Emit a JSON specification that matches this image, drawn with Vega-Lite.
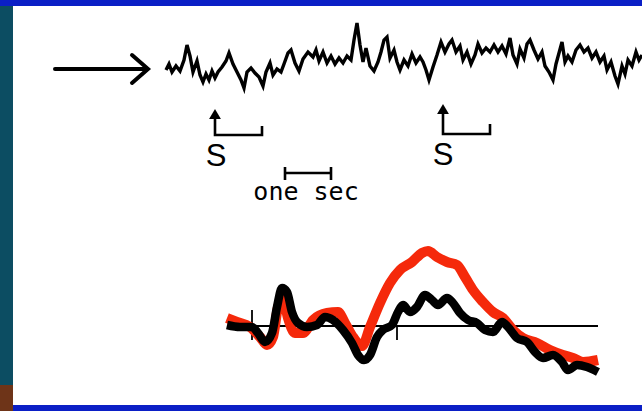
{
  "$schema": "https://vega.github.io/schema/vega-lite/v6.json",
  "width": 642,
  "height": 411,
  "padding": 0,
  "autosize": {"type": "none"},
  "background": "#ffffff",
  "config": {"view": {"stroke": null}},
  "encoding": {
    "x": {"field": "x", "type": "quantitative", "scale": {"domain": [0, 642], "nice": false, "zero": false}, "axis": null},
    "y": {"field": "y", "type": "quantitative", "scale": {"domain": [411, 0], "nice": false, "zero": false}, "axis": null}
  },
  "layer": [
    {
      "data": {"values": [{"x": 0, "x2": 642, "y": 0, "y2": 6}, {"x": 13, "x2": 642, "y": 405, "y2": 411}]},
      "mark": {"type": "rect", "color": "#0b1fc6"},
      "encoding": {"x2": {"field": "x2"}, "y2": {"field": "y2"}}
    },
    {
      "data": {"values": [{"x": 0, "x2": 13, "y": 6, "y2": 385}]},
      "mark": {"type": "rect", "color": "#0c4d62"},
      "encoding": {"x2": {"field": "x2"}, "y2": {"field": "y2"}}
    },
    {
      "data": {"values": [{"x": 0, "x2": 13, "y": 385, "y2": 411}]},
      "mark": {"type": "rect", "color": "#6e3418"},
      "encoding": {"x2": {"field": "x2"}, "y2": {"field": "y2"}}
    },
    {
      "data": {"values": [
        {"g": "shaft", "i": 0, "x": 55, "y": 69}, {"g": "shaft", "i": 1, "x": 146, "y": 69},
        {"g": "head", "i": 0, "x": 132, "y": 55}, {"g": "head", "i": 1, "x": 148, "y": 69}, {"g": "head", "i": 2, "x": 132, "y": 83}
      ]},
      "mark": {"type": "line", "color": "#000000", "strokeWidth": 4, "strokeCap": "round", "strokeJoin": "miter"},
      "encoding": {"detail": {"field": "g"}, "order": {"field": "i"}}
    },
    {
      "data": {"values": [
        {"x": 166, "y": 70}, {"x": 169, "y": 64}, {"x": 172, "y": 72}, {"x": 176, "y": 66}, {"x": 180, "y": 71},
        {"x": 184, "y": 60}, {"x": 187, "y": 45}, {"x": 190, "y": 56}, {"x": 193, "y": 72}, {"x": 197, "y": 61},
        {"x": 200, "y": 75}, {"x": 203, "y": 82}, {"x": 206, "y": 74}, {"x": 209, "y": 80}, {"x": 212, "y": 71},
        {"x": 215, "y": 78}, {"x": 218, "y": 72}, {"x": 222, "y": 67}, {"x": 226, "y": 61}, {"x": 229, "y": 53},
        {"x": 233, "y": 64}, {"x": 237, "y": 72}, {"x": 241, "y": 80}, {"x": 244, "y": 88}, {"x": 247, "y": 72},
        {"x": 251, "y": 68}, {"x": 255, "y": 73}, {"x": 259, "y": 77}, {"x": 263, "y": 86}, {"x": 266, "y": 72},
        {"x": 270, "y": 63}, {"x": 273, "y": 75}, {"x": 277, "y": 69}, {"x": 281, "y": 72}, {"x": 284, "y": 64},
        {"x": 288, "y": 53}, {"x": 291, "y": 50}, {"x": 295, "y": 63}, {"x": 299, "y": 71}, {"x": 303, "y": 59},
        {"x": 308, "y": 52}, {"x": 313, "y": 57}, {"x": 316, "y": 50}, {"x": 319, "y": 61}, {"x": 323, "y": 52},
        {"x": 327, "y": 63}, {"x": 331, "y": 56}, {"x": 335, "y": 64}, {"x": 339, "y": 58}, {"x": 343, "y": 63},
        {"x": 347, "y": 56}, {"x": 351, "y": 60}, {"x": 354, "y": 40}, {"x": 357, "y": 23}, {"x": 360, "y": 45},
        {"x": 363, "y": 62}, {"x": 366, "y": 48}, {"x": 370, "y": 66}, {"x": 374, "y": 71}, {"x": 378, "y": 62},
        {"x": 381, "y": 52}, {"x": 384, "y": 40}, {"x": 387, "y": 37}, {"x": 390, "y": 58}, {"x": 394, "y": 50},
        {"x": 397, "y": 62}, {"x": 400, "y": 70}, {"x": 404, "y": 60}, {"x": 408, "y": 66}, {"x": 412, "y": 54},
        {"x": 416, "y": 63}, {"x": 420, "y": 57}, {"x": 423, "y": 62}, {"x": 426, "y": 70}, {"x": 429, "y": 80},
        {"x": 433, "y": 67}, {"x": 437, "y": 55}, {"x": 441, "y": 42}, {"x": 445, "y": 52}, {"x": 449, "y": 44},
        {"x": 452, "y": 40}, {"x": 456, "y": 52}, {"x": 460, "y": 46}, {"x": 463, "y": 60}, {"x": 467, "y": 52},
        {"x": 471, "y": 64}, {"x": 475, "y": 55}, {"x": 478, "y": 44}, {"x": 482, "y": 53}, {"x": 486, "y": 48},
        {"x": 490, "y": 52}, {"x": 494, "y": 45}, {"x": 498, "y": 52}, {"x": 502, "y": 46}, {"x": 506, "y": 54},
        {"x": 510, "y": 38}, {"x": 513, "y": 55}, {"x": 517, "y": 64}, {"x": 520, "y": 49}, {"x": 524, "y": 58},
        {"x": 527, "y": 44}, {"x": 530, "y": 40}, {"x": 534, "y": 50}, {"x": 538, "y": 59}, {"x": 542, "y": 52},
        {"x": 545, "y": 66}, {"x": 549, "y": 72}, {"x": 553, "y": 80}, {"x": 556, "y": 64}, {"x": 559, "y": 53},
        {"x": 562, "y": 42}, {"x": 565, "y": 62}, {"x": 568, "y": 56}, {"x": 572, "y": 62}, {"x": 576, "y": 50},
        {"x": 580, "y": 45}, {"x": 584, "y": 52}, {"x": 588, "y": 48}, {"x": 592, "y": 58}, {"x": 596, "y": 52},
        {"x": 600, "y": 62}, {"x": 604, "y": 56}, {"x": 607, "y": 70}, {"x": 611, "y": 62}, {"x": 615, "y": 76},
        {"x": 618, "y": 84}, {"x": 622, "y": 66}, {"x": 625, "y": 74}, {"x": 628, "y": 60}, {"x": 632, "y": 66},
        {"x": 636, "y": 52}, {"x": 639, "y": 60}, {"x": 642, "y": 55}
      ]},
      "mark": {"type": "line", "color": "#000000", "strokeWidth": 3.4, "strokeJoin": "miter"}
    },
    {
      "data": {"values": [
        {"g": "s1", "i": 0, "x": 215, "y": 116}, {"g": "s1", "i": 1, "x": 215, "y": 135}, {"g": "s1", "i": 2, "x": 262, "y": 135}, {"g": "s1", "i": 3, "x": 262, "y": 126},
        {"g": "s2", "i": 0, "x": 443, "y": 111}, {"g": "s2", "i": 1, "x": 443, "y": 134}, {"g": "s2", "i": 2, "x": 490, "y": 134}, {"g": "s2", "i": 3, "x": 490, "y": 124},
        {"g": "bar", "i": 0, "x": 285, "y": 173}, {"g": "bar", "i": 1, "x": 331, "y": 173},
        {"g": "t1", "i": 0, "x": 285, "y": 167}, {"g": "t1", "i": 1, "x": 285, "y": 180},
        {"g": "t2", "i": 0, "x": 331, "y": 167}, {"g": "t2", "i": 1, "x": 331, "y": 180}
      ]},
      "mark": {"type": "line", "color": "#000000", "strokeWidth": 2.6},
      "encoding": {"detail": {"field": "g"}, "order": {"field": "i"}}
    },
    {
      "data": {"values": [{"x": 215, "y": 114}, {"x": 443, "y": 109}]},
      "mark": {"type": "point", "shape": "triangle-up", "filled": true, "color": "#000000", "size": 140, "opacity": 1}
    },
    {
      "data": {"values": [{"x": 216, "y": 155, "t": "S"}, {"x": 443, "y": 154, "t": "S"}]},
      "mark": {"type": "text", "font": "Liberation Sans", "fontSize": 31, "color": "#000000", "baseline": "middle", "align": "center", "dy": 2},
      "encoding": {"text": {"field": "t"}}
    },
    {
      "data": {"values": [{"x": 306, "y": 192, "t": "one sec"}]},
      "mark": {"type": "text", "font": "DejaVu Sans Mono", "fontSize": 25, "color": "#000000", "baseline": "middle", "align": "center"},
      "encoding": {"text": {"field": "t"}}
    },
    {
      "data": {"values": [
        {"g": "base", "i": 0, "x": 227, "y": 326}, {"g": "base", "i": 1, "x": 598, "y": 326},
        {"g": "k1", "i": 0, "x": 252, "y": 310}, {"g": "k1", "i": 1, "x": 252, "y": 340},
        {"g": "k2", "i": 0, "x": 397, "y": 325}, {"g": "k2", "i": 1, "x": 397, "y": 340}
      ]},
      "mark": {"type": "line", "color": "#000000", "strokeWidth": 1.8},
      "encoding": {"detail": {"field": "g"}, "order": {"field": "i"}}
    },
    {
      "data": {"values": [
        {"x": 227, "y": 318}, {"x": 237, "y": 322}, {"x": 250, "y": 327}, {"x": 260, "y": 337}, {"x": 267, "y": 345},
        {"x": 273, "y": 337}, {"x": 278, "y": 307}, {"x": 283, "y": 298}, {"x": 288, "y": 318}, {"x": 295, "y": 333},
        {"x": 303, "y": 333}, {"x": 313, "y": 320}, {"x": 327, "y": 313}, {"x": 338, "y": 312}, {"x": 345, "y": 323},
        {"x": 353, "y": 337}, {"x": 362, "y": 346}, {"x": 370, "y": 327}, {"x": 380, "y": 303}, {"x": 390, "y": 283},
        {"x": 400, "y": 270}, {"x": 412, "y": 262}, {"x": 422, "y": 253}, {"x": 428, "y": 251}, {"x": 437, "y": 257},
        {"x": 447, "y": 262}, {"x": 457, "y": 265}, {"x": 465, "y": 277}, {"x": 473, "y": 290}, {"x": 483, "y": 302},
        {"x": 493, "y": 312}, {"x": 503, "y": 318}, {"x": 513, "y": 330}, {"x": 523, "y": 338}, {"x": 537, "y": 343},
        {"x": 550, "y": 350}, {"x": 563, "y": 355}, {"x": 573, "y": 358}, {"x": 583, "y": 362}, {"x": 598, "y": 360}
      ]},
      "mark": {"type": "line", "color": "#f5290b", "strokeWidth": 10, "strokeCap": "butt", "strokeJoin": "round", "interpolate": "monotone"}
    },
    {
      "data": {"values": [
        {"x": 227, "y": 325}, {"x": 240, "y": 327}, {"x": 252, "y": 327}, {"x": 258, "y": 333}, {"x": 265, "y": 342},
        {"x": 272, "y": 333}, {"x": 277, "y": 307}, {"x": 282, "y": 288}, {"x": 287, "y": 292}, {"x": 292, "y": 312},
        {"x": 298, "y": 323}, {"x": 307, "y": 327}, {"x": 317, "y": 325}, {"x": 325, "y": 317}, {"x": 333, "y": 320},
        {"x": 343, "y": 330}, {"x": 352, "y": 343}, {"x": 358, "y": 355}, {"x": 364, "y": 360}, {"x": 370, "y": 355},
        {"x": 377, "y": 337}, {"x": 383, "y": 330}, {"x": 392, "y": 325}, {"x": 398, "y": 312}, {"x": 403, "y": 305},
        {"x": 410, "y": 312}, {"x": 417, "y": 307}, {"x": 425, "y": 295}, {"x": 432, "y": 300}, {"x": 438, "y": 305},
        {"x": 447, "y": 298}, {"x": 453, "y": 303}, {"x": 460, "y": 313}, {"x": 468, "y": 320}, {"x": 477, "y": 323},
        {"x": 485, "y": 330}, {"x": 493, "y": 332}, {"x": 502, "y": 322}, {"x": 508, "y": 327}, {"x": 517, "y": 338},
        {"x": 527, "y": 342}, {"x": 535, "y": 352}, {"x": 543, "y": 358}, {"x": 553, "y": 355}, {"x": 562, "y": 362},
        {"x": 568, "y": 370}, {"x": 577, "y": 365}, {"x": 587, "y": 367}, {"x": 598, "y": 372}
      ]},
      "mark": {"type": "line", "color": "#000000", "strokeWidth": 8.5, "strokeCap": "butt", "strokeJoin": "round", "interpolate": "monotone"}
    }
  ]
}
